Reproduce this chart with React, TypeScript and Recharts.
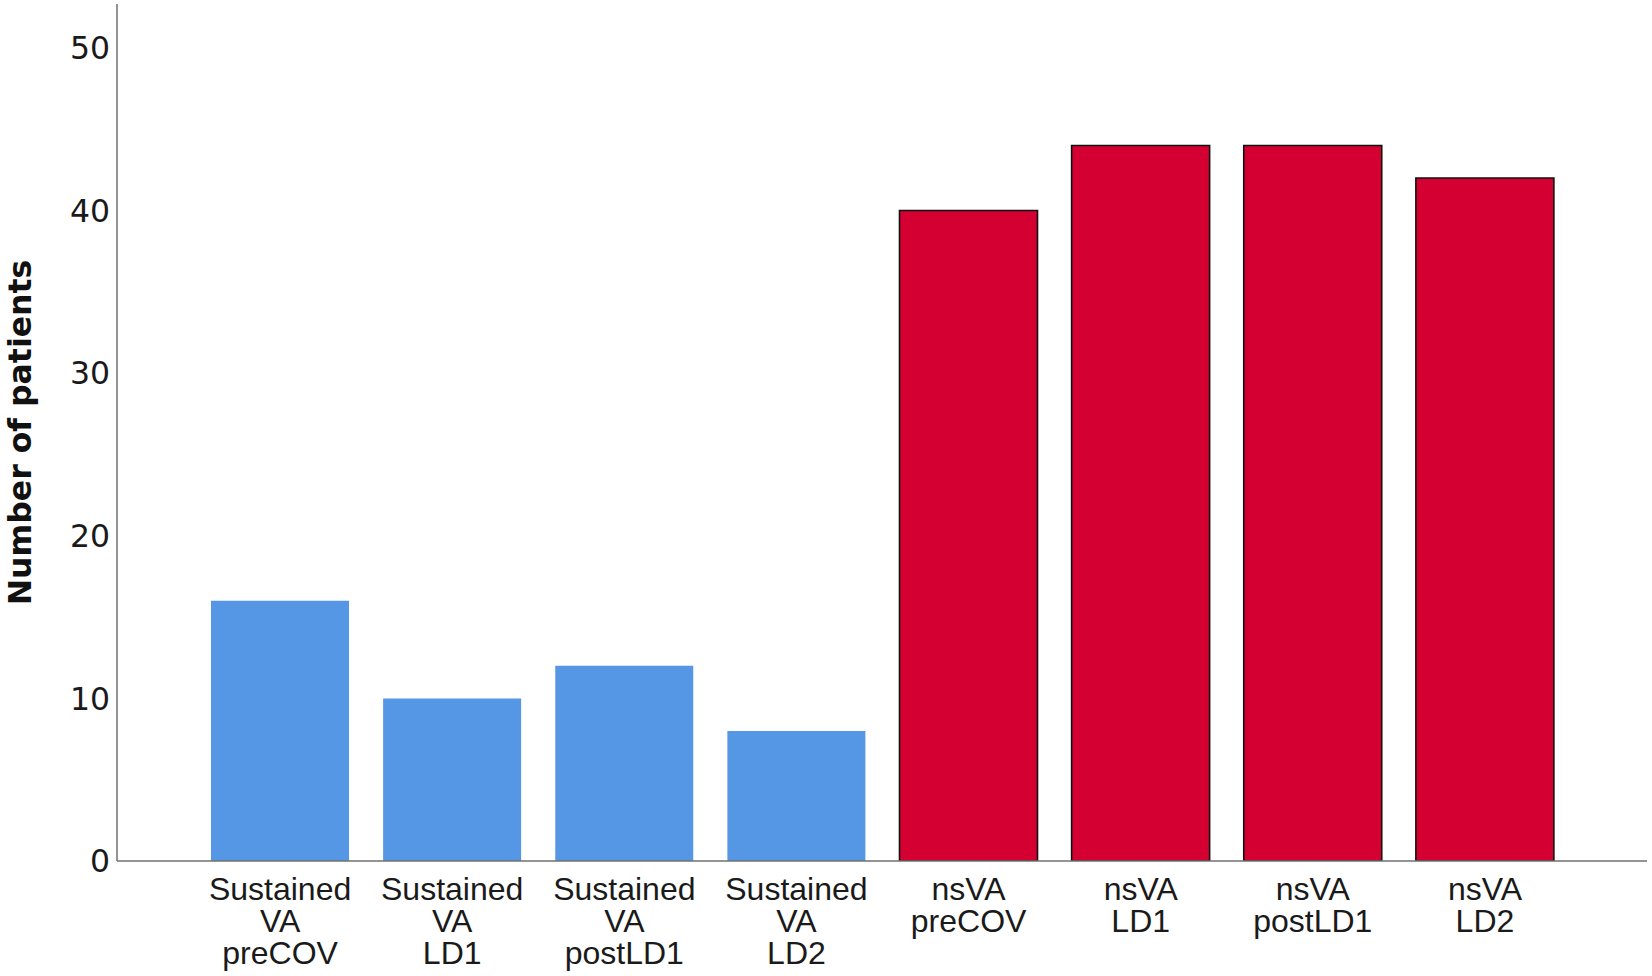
import React from 'react';
import { BarChart, Bar, XAxis, YAxis, Cell } from 'recharts';

const categories = [
  'Sustained\nVA\npreCOV',
  'Sustained\nVA\nLD1',
  'Sustained\nVA\npostLD1',
  'Sustained\nVA\nLD2',
  'nsVA\npreCOV',
  'nsVA\nLD1',
  'nsVA\npostLD1',
  'nsVA\nLD2',
];
const patients = [16, 10, 12, 8, 40, 44, 44, 42];
const groups = ['sustained', 'sustained', 'sustained', 'sustained', 'ns', 'ns', 'ns', 'ns'];
const yTicks = [0, 10, 20, 30, 40, 50];
const yLabel = 'Number of patients';

const fillFor: Record<string, string> = { sustained: '#5596E5', ns: '#D50032' };
const strokeFor: Record<string, string> = { sustained: 'none', ns: '#111111' };

const data = categories.map((c, i) => ({ name: c, value: patients[i], group: groups[i] }));

const XTick = (props: any) => {
  const { x, y, payload } = props;
  const lines = String(payload.value).split('\n');
  return (
    <text
      x={x}
      y={y}
      textAnchor="middle"
      fill="#1a1a1a"
      fontFamily="'Liberation Sans', Arial, sans-serif"
      fontSize={32}
    >
      {lines.map((l, i) => (
        <tspan key={i} x={x} dy={i === 0 ? 31 : 32}>
          {l}
        </tspan>
      ))}
    </text>
  );
};

const YLabel = (props: any) => {
  const vb = props.viewBox || {};
  const cx = 20;
  const cy = vb.y + vb.height / 2;
  return (
    <text
      x={cx}
      y={cy}
      transform={`rotate(-90, ${cx}, ${cy})`}
      textAnchor="middle"
      dominantBaseline="central"
      fontFamily="'DejaVu Sans', sans-serif"
      fontWeight="bold"
      fontSize={31.5}
      fill="#111"
    >
      {yLabel}
    </text>
  );
};

export default function App() {
  return (
    <div style={{ position: 'absolute', left: 0, top: 0, width: 1652, height: 976, background: '#fff' }}>
      <BarChart
        width={1652}
        height={976}
        data={data}
        margin={{ top: 4, right: 5, bottom: 0, left: 0 }}
      >
        <XAxis
          dataKey="name"
          height={115}
          tickLine={false}
          axisLine={{ stroke: '#707070', strokeWidth: 1.5 }}
          interval={0}
          padding={{ left: 77, right: 76 }}
          tick={<XTick />}
        />
        <YAxis
          width={117}
          domain={[0, 52.7]}
          ticks={yTicks}
          tickLine={false}
          tickSize={0}
          tickMargin={7}
          axisLine={{ stroke: '#707070', strokeWidth: 1.5 }}
          tick={{ fill: '#1a1a1a', fontSize: 31.5, fontFamily: "'DejaVu Sans', sans-serif" }}
          allowDataOverflow
          label={<YLabel />}
        />
        <Bar dataKey="value" barSize={138} isAnimationActive={false}>
          {data.map((d, i) => (
            <Cell
              key={i}
              fill={fillFor[d.group]}
              stroke={strokeFor[d.group]}
              strokeWidth={d.group === 'ns' ? 1.6 : 0}
            />
          ))}
        </Bar>
      </BarChart>
    </div>
  );
}
